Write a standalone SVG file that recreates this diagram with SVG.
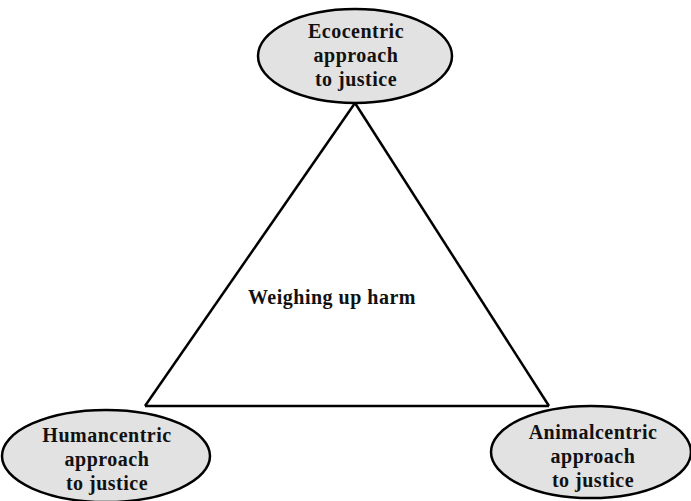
<svg xmlns="http://www.w3.org/2000/svg" width="691" height="501" viewBox="0 0 691 501">
<style>
.node ellipse{fill:#e2e2e2;stroke:#000;stroke-width:2.5}
text{font-family:"Liberation Serif","DejaVu Serif",serif;font-weight:bold;font-size:20px;letter-spacing:0.5px;text-anchor:middle;fill:#111}
.edge{stroke:#000;stroke-width:2.5;fill:none}
</style>
<rect width="691" height="501" fill="#fff"/>
<g id="connectors">
<line class="edge" x1="355" y1="103" x2="145" y2="406"/>
<line class="edge" x1="355" y1="103" x2="549" y2="406"/>
<line class="edge" x1="145" y1="406" x2="549" y2="406"/>
</g>
<g id="center-label"><text x="332" y="304">Weighing up harm</text></g>
<g id="ecocentric" class="node">
<ellipse cx="355" cy="56" rx="97" ry="47"/>
<text x="356" y="38">Ecocentric</text>
<text x="356" y="62">approach</text>
<text x="356" y="86">to justice</text>
</g>
<g id="humancentric" class="node">
<ellipse cx="106" cy="456" rx="104" ry="46"/>
<text x="107" y="442">Humancentric</text>
<text x="107" y="466">approach</text>
<text x="107" y="490">to justice</text>
</g>
<g id="animalcentric" class="node">
<ellipse cx="591" cy="452" rx="100" ry="46"/>
<text x="593" y="439">Animalcentric</text>
<text x="593" y="463">approach</text>
<text x="593" y="487">to justice</text>
</g>
</svg>
